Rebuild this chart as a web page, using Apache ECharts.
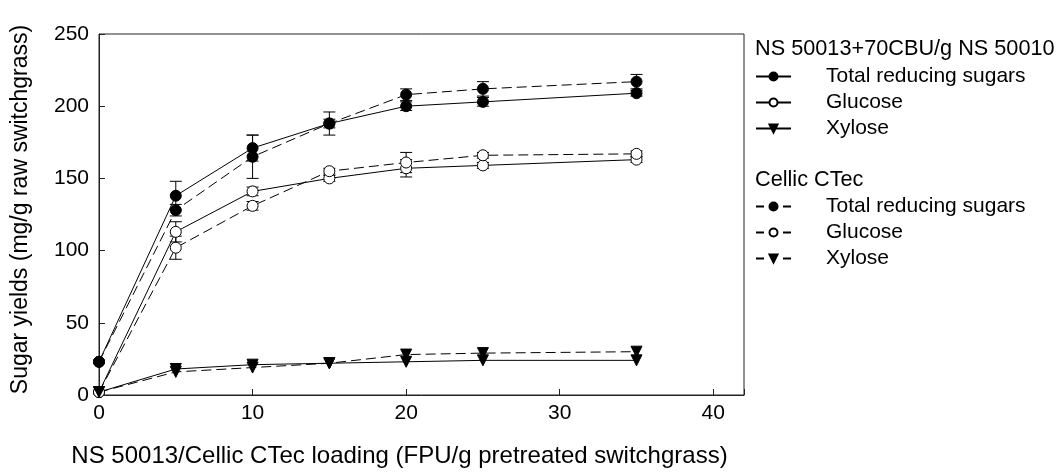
<!DOCTYPE html>
<html>
<head>
<meta charset="utf-8">
<script src="https://cdn.jsdelivr.net/npm/echarts@6/dist/echarts.min.js"></script>
<style>
  * { padding: 0; margin: 0; }
  body { background: #fff; }
</style>
</head>
<body>
<div id="chart" style="width:1060px;height:474px;"></div>
<script>
// loading (FPU/g)
var loading = [0, 5, 10, 15, 20, 25, 35];

// NS 50013 + 70CBU/g NS 50010
var nsTotal = [23, 138, 171, 188, 200, 203, 209];
var nsTotalErr = [1, 10, 9, 8, 3, 3, 2];
var nsGlucose = [2, 113, 141, 150, 157, 159, 163];
var nsGlucoseErr = [0.5, 7, 3, 2, 6, 2, 2];
var nsXylose = [2, 18, 21, 22, 23, 24, 24];

// Cellic CTec
var ctTotal = [23, 128, 165, 188, 208, 212, 217];
var ctTotalErr = [1, 4, 15, 3, 4, 5, 5];
var ctGlucose = [2, 102, 131, 155, 161, 166, 167];
var ctGlucoseErr = [0.5, 8, 3, 2, 7, 2, 2];
var ctXylose = [2, 16, 19, 22, 28, 29, 30];

var xTicks = [0, 10, 20, 30, 40];
var yTicks = [0, 50, 100, 150, 200, 250];

var labels = {
  nsTotal: 'Total reducing sugars', nsGlucose: 'Glucose', nsXylose: 'Xylose',
  ctTotal: 'Total reducing sugars', ctGlucose: 'Glucose', ctXylose: 'Xylose'
};

var FONT = '"Liberation Sans", Arial, sans-serif';
var DASH = [10, 5];

function pts(vals) {
  return loading.map(function (x, i) { return [x, vals[i]]; });
}

function lineSeries(name, vals, symbol, fill, dashed) {
  return {
    name: name,
    type: 'line',
    data: pts(vals),
    symbol: symbol,
    symbolRotate: symbol === 'triangle' ? 180 : 0,
    symbolSize: 11,
    clip: false,
    z: 3,
    lineStyle: { color: '#000', width: 1, type: dashed ? DASH : 'solid' },
    itemStyle: { color: fill, borderColor: '#000', borderWidth: 1 },
    emphasis: { disabled: true }
  };
}

function errSeries(vals, errs) {
  return {
    type: 'custom',
    silent: true,
    z: 1,
    clip: false,
    encode: { x: 0, y: 1 },
    data: loading.map(function (x, i) { return [x, vals[i], errs[i]]; }),
    renderItem: function (params, api) {
      var x = api.value(0), y = api.value(1), e = api.value(2);
      var t = api.coord([x, y + e]), b = api.coord([x, y - e]);
      var w = 6, st = { stroke: '#000', lineWidth: 1 };
      return {
        type: 'group',
        children: [
          { type: 'line', shape: { x1: t[0], y1: t[1], x2: b[0], y2: b[1] }, style: st },
          { type: 'line', shape: { x1: t[0] - w, y1: t[1], x2: t[0] + w, y2: t[1] }, style: st },
          { type: 'line', shape: { x1: b[0] - w, y1: b[1], x2: b[0] + w, y2: b[1] }, style: st }
        ]
      };
    }
  };
}

function legendBlock(names, top, dashed) {
  return {
    data: names.map(function (n) {
      return dashed ? { name: n, lineStyle: { type: [8, 19] } } : n;
    }),
    left: 755,
    top: top,
    padding: 0,
    orient: 'vertical',
    itemWidth: 35,
    itemHeight: 10,
    itemGap: 5,
    selectedMode: false,
    formatter: function (n) { return labels[n]; },
    textStyle: { fontFamily: FONT, fontSize: 21, color: '#000', padding: [0, 0, 0, 30] }
  };
}

var chart = echarts.init(document.getElementById('chart'));
chart.setOption({
  animation: false,
  backgroundColor: '#fff',
  grid: { left: 99, right: 316, top: 34, bottom: 79, show: true, borderColor: '#222', borderWidth: 1 },
  xAxis: {
    type: 'value',
    min: 0, max: 42, interval: 10,
    name: 'NS 50013/Cellic CTec loading (FPU/g pretreated switchgrass)',
    nameLocation: 'middle',
    nameGap: 49,
    nameTextStyle: { fontFamily: FONT, fontSize: 24, color: '#000', padding: [0, 44, 0, 0] },
    axisLine: { lineStyle: { color: '#222', width: 1 } },
    axisTick: { inside: true, length: 6, lineStyle: { color: '#222' } },
    axisLabel: {
      fontFamily: FONT, fontSize: 21, color: '#000', margin: 8,
      formatter: function (v) { return xTicks.indexOf(v) >= 0 ? String(v) : ''; }
    },
    splitLine: { show: false }
  },
  yAxis: {
    type: 'value',
    min: 0, max: 250, interval: 50,
    name: 'Sugar yields (mg/g raw switchgrass)',
    nameLocation: 'middle',
    nameGap: 67,
    nameTextStyle: { fontFamily: FONT, fontSize: 23, color: '#000', padding: [0, 0, 0, 10] },
    axisLine: { show: true, lineStyle: { color: '#222', width: 1 } },
    axisTick: { show: true, inside: true, length: 6, lineStyle: { color: '#222' } },
    axisLabel: {
      fontFamily: FONT, fontSize: 21, color: '#000', margin: 10,
      formatter: function (v) { return yTicks.indexOf(v) >= 0 ? String(v) : ''; }
    },
    splitLine: { show: false }
  },
  legend: [
    legendBlock(['nsTotal', 'nsGlucose', 'nsXylose'], 66, false),
    legendBlock(['ctTotal', 'ctGlucose', 'ctXylose'], 196, true)
  ],
  graphic: [
    { type: 'text', left: 755, top: 38, style: { text: 'NS 50013+70CBU/g NS 50010', font: '21.7px ' + FONT, fill: '#000' } },
    { type: 'text', left: 755, top: 169, style: { text: 'Cellic CTec', font: '21.7px ' + FONT, fill: '#000' } }
  ],
  series: [
    errSeries(nsTotal, nsTotalErr),
    errSeries(nsGlucose, nsGlucoseErr),
    errSeries(ctTotal, ctTotalErr),
    errSeries(ctGlucose, ctGlucoseErr),
    lineSeries('nsTotal', nsTotal, 'circle', '#000', false),
    lineSeries('nsGlucose', nsGlucose, 'circle', '#fff', false),
    lineSeries('nsXylose', nsXylose, 'triangle', '#000', false),
    lineSeries('ctTotal', ctTotal, 'circle', '#000', true),
    lineSeries('ctGlucose', ctGlucose, 'circle', '#fff', true),
    lineSeries('ctXylose', ctXylose, 'triangle', '#000', true)
  ]
});
</script>
</body>
</html>
